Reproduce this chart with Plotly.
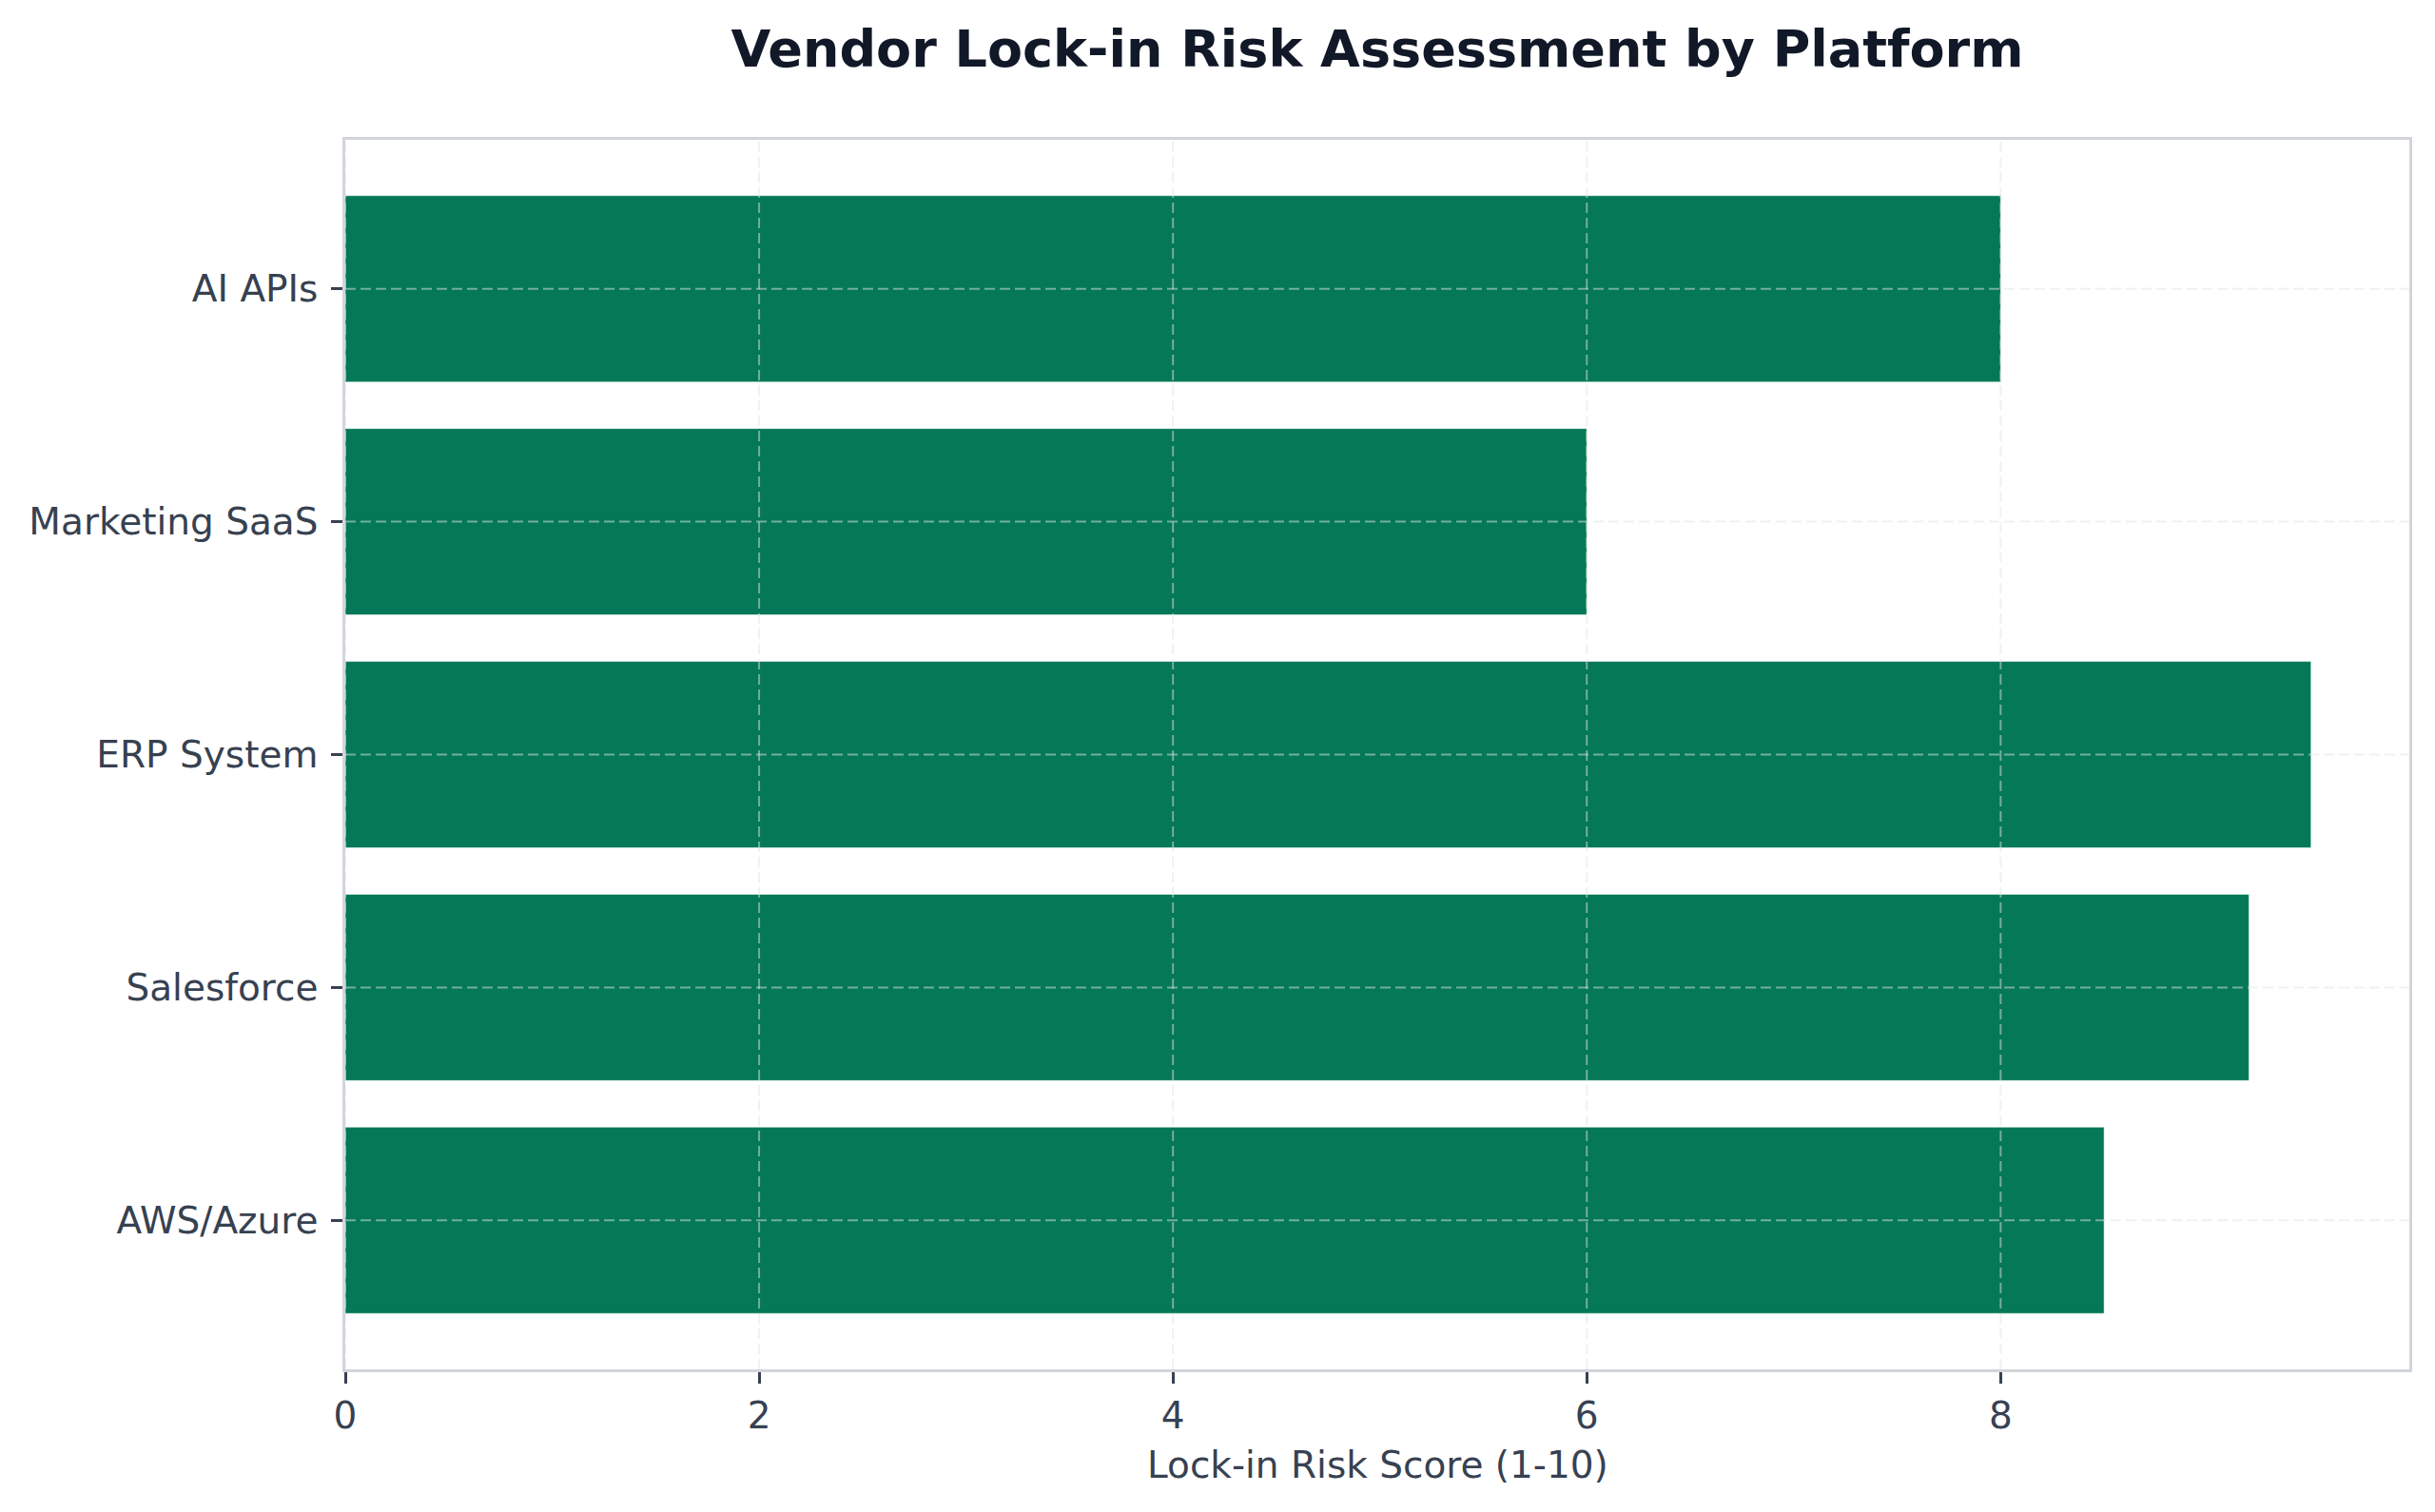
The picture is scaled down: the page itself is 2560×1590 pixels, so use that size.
import plotly.graph_objects as go

# Data
platforms = ["AWS/Azure", "Salesforce", "ERP System", "Marketing SaaS", "AI APIs"]
risk_scores = [8.5, 9.2, 9.5, 6.0, 8.0]
x_ticks = [0, 2, 4, 6, 8]

title_text = "Vendor Lock-in Risk Assessment by Platform"
x_title = "Lock-in Risk Score (1-10)"

FONT = "DejaVu Sans"
TICK_COLOR = "#374151"
SPINE = "#d1d5db"
GRID = "rgba(225,228,232,0.5)"
GRID_DASH = "11px,5px"
FS = 39

fig = go.Figure(
    go.Bar(
        x=risk_scores,
        y=platforms,
        orientation="h",
        width=0.8,
        marker=dict(color="#047857", line=dict(color="rgba(255,255,255,0.5)", width=1)),
        hoverinfo="x+y",
    )
)

# gridlines drawn above the bars (as in the reference)
shapes = []
for xv in x_ticks:
    shapes.append(dict(type="line", layer="above", xref="x", yref="paper",
                       x0=xv, x1=xv, y0=0, y1=1,
                       line=dict(color=GRID, width=2, dash=GRID_DASH)))
for i, _ in enumerate(platforms):
    shapes.append(dict(type="line", layer="above", xref="paper", yref="y",
                       x0=0, x1=1, y0=i, y1=i,
                       line=dict(color=GRID, width=2, dash=GRID_DASH)))

fig.update_layout(
    width=2560,
    height=1590,
    paper_bgcolor="white",
    plot_bgcolor="white",
    margin=dict(l=363, r=27, t=147, b=150),
    showlegend=False,
    title=dict(
        text="<b>" + title_text + "</b>",
        x=(363 + 2533) / 2 / 2560,
        xanchor="center",
        y=1 - 51 / 1590,
        yanchor="middle",
        font=dict(family=FONT, size=54, color="#111827"),
    ),
    font=dict(family=FONT, color=TICK_COLOR),
    shapes=shapes,
    annotations=[dict(
        text=x_title, xref="paper", yref="paper", x=0.5, y=0,
        xanchor="center", yanchor="middle", yshift=-100, showarrow=False,
        font=dict(family=FONT, size=FS, color=TICK_COLOR),
    )],
)

fig.update_xaxes(
    range=[0, 9.975],
    tickvals=x_ticks,
    ticktext=[str(v) for v in x_ticks],
    tickfont=dict(family=FONT, size=FS, color=TICK_COLOR),
    ticks="outside",
    ticklen=12,
    tickwidth=2.5,
    tickcolor=TICK_COLOR,
    ticklabelstandoff=0,
    showline=True,
    linecolor=SPINE,
    linewidth=2.5,
    mirror=True,
    showgrid=False,
    zeroline=False,
    layer="above traces",
)

fig.update_yaxes(
    type="category",
    categoryorder="array",
    categoryarray=platforms,
    range=[-0.64, 4.64],
    tickfont=dict(family=FONT, size=FS, color=TICK_COLOR),
    ticks="outside",
    ticklen=12,
    tickwidth=2.5,
    tickcolor=TICK_COLOR,
    ticklabelstandoff=6,
    showline=True,
    linecolor=SPINE,
    linewidth=2.5,
    mirror=True,
    showgrid=False,
    zeroline=False,
    layer="above traces",
)

fig.write_html("out.html")
